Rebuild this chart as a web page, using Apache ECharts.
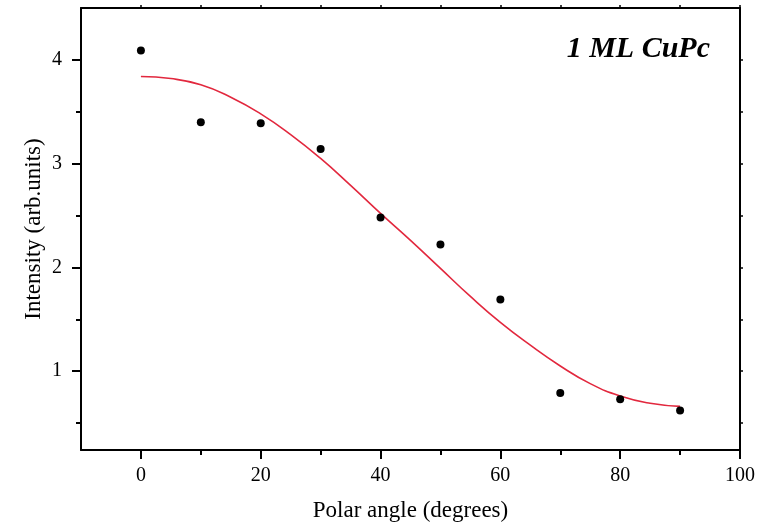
<!DOCTYPE html>
<html>
<head>
<meta charset="utf-8">
<script src="https://cdn.jsdelivr.net/npm/echarts@6/dist/echarts.min.js"></script>
<style>
  html, body { margin: 0; padding: 0; background: #fff; }
  #chart { width: 769px; height: 523px; }
</style>
</head>
<body>
<div id="chart"></div>
<script>
// Measured intensities vs polar angle
const angles = [0, 10, 20, 30, 40, 50, 60, 70, 80, 90];
const intensity = [4.09, 3.40, 3.39, 3.14, 2.48, 2.22, 1.69, 0.79, 0.73, 0.62];

// Fitted curve, sampled every 5 degrees
const fitAngles = [0, 5, 10, 15, 20, 25, 30, 35, 40, 45, 50, 55, 60, 65, 70, 75, 80, 85, 90];
const fitValues = [3.84, 3.82, 3.76, 3.64, 3.48, 3.28, 3.05, 2.79, 2.52, 2.26, 1.99, 1.72, 1.47, 1.25, 1.05, 0.88, 0.76, 0.69, 0.66];

// Tick positions
const xMajorTicks = [0, 20, 40, 60, 80, 100];
const xMinorTicks = [10, 30, 50, 70, 90];
const yMajorTicks = [1, 2, 3, 4];
const yMinorTicks = [0.5, 1.5, 2.5, 3.5];

const X_MIN = -10, X_MAX = 100;
const Y_MIN = 0.24, Y_MAX = 4.5;

const serif = 'Liberation Serif';
const black = '#000';

function xAxisBase(extra) {
  return Object.assign({
    type: 'value', min: X_MIN, max: X_MAX, interval: 10,
    splitLine: { show: false },
    axisLine: { show: true, onZero: false, lineStyle: { color: black, width: 2 } }
  }, extra);
}
function yAxisBase(extra) {
  return Object.assign({
    type: 'value', min: Y_MIN, max: Y_MAX,
    splitLine: { show: false },
    axisLine: { show: true, onZero: false, lineStyle: { color: black, width: 2 } }
  }, extra);
}

const chart = echarts.init(document.getElementById('chart'), null, { renderer: 'canvas' });

chart.setOption({
  animation: false,
  backgroundColor: '#fff',
  grid: { left: 81, right: 29, top: 8, bottom: 73, containLabel: false, outerBoundsMode: 'none' },
  title: {
    text: '1 ML CuPc',
    right: 54, top: 29,
    textStyle: { fontFamily: serif, fontSize: 30, fontWeight: 'bold', fontStyle: 'italic', color: black }
  },
  xAxis: [
    xAxisBase({
      position: 'bottom',
      name: 'Polar angle (degrees)', nameLocation: 'middle', nameGap: 49,
      nameMoveOverlap: false,
      nameTextStyle: { fontFamily: serif, fontSize: 23, color: black },
      axisTick: { show: true, length: 9, lineStyle: { color: black, width: 2 }, customValues: xMajorTicks },
      axisLabel: { show: true, margin: 16, fontFamily: serif, fontSize: 20, color: black, customValues: xMajorTicks }
    }),
    xAxisBase({
      position: 'bottom',
      axisLine: { show: false, onZero: false },
      axisTick: { show: true, length: 5, lineStyle: { color: black, width: 2 }, customValues: xMinorTicks },
      axisLabel: { show: false }
    }),
    xAxisBase({
      position: 'top',
      axisTick: { show: true, length: 3, lineStyle: { color: black, width: 1.5 }, customValues: xMajorTicks.concat(xMinorTicks) },
      axisLabel: { show: false }
    })
  ],
  yAxis: [
    yAxisBase({
      position: 'left',
      name: 'Intensity (arb.units)', nameLocation: 'middle', nameGap: 36,
      nameMoveOverlap: false,
      nameTextStyle: { fontFamily: serif, fontSize: 23, color: black },
      axisTick: { show: true, length: 9, lineStyle: { color: black, width: 2 }, customValues: yMajorTicks },
      axisLabel: { show: true, margin: 19, fontFamily: serif, fontSize: 20, color: black, customValues: yMajorTicks }
    }),
    yAxisBase({
      position: 'left',
      axisLine: { show: false, onZero: false },
      axisTick: { show: true, length: 5, lineStyle: { color: black, width: 2 }, customValues: yMinorTicks },
      axisLabel: { show: false }
    }),
    yAxisBase({
      position: 'right',
      axisTick: { show: true, length: 3, lineStyle: { color: black, width: 1.5 }, customValues: yMajorTicks.concat(yMinorTicks) },
      axisLabel: { show: false }
    })
  ],
  series: [
    {
      type: 'line',
      xAxisIndex: 0, yAxisIndex: 0,
      data: fitAngles.map((a, i) => [a, fitValues[i]]),
      smooth: true,
      showSymbol: false,
      lineStyle: { color: '#e2283e', width: 1.6 },
      z: 2
    },
    {
      type: 'scatter',
      xAxisIndex: 0, yAxisIndex: 0,
      data: angles.map((a, i) => [a, intensity[i]]),
      symbol: 'circle',
      symbolSize: 8,
      itemStyle: { color: black, opacity: 1 },
      z: 3
    }
  ]
});
</script>
</body>
</html>
